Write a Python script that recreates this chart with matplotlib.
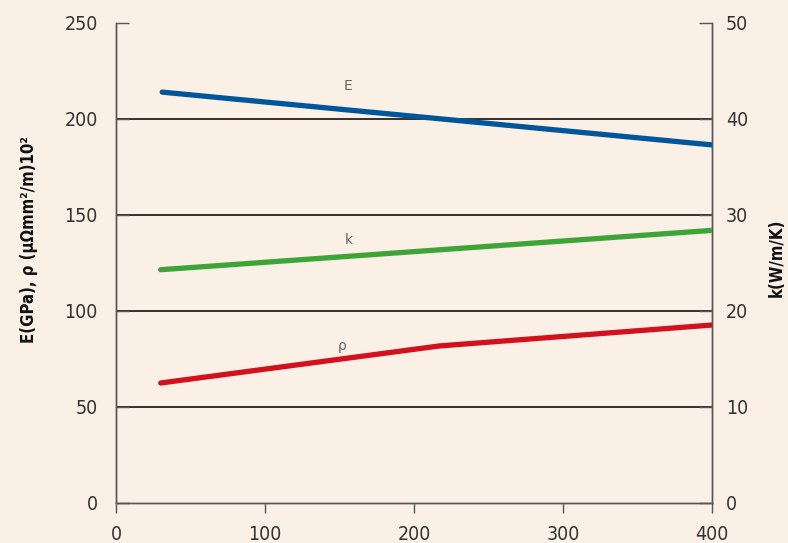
import matplotlib
matplotlib.use("Agg")
import matplotlib.pyplot as plt
from matplotlib import font_manager
from matplotlib.font_manager import FontProperties

# choose a condensed face if any is installed
cond_path = None
for f in font_manager.fontManager.ttflist:
    nm = f.name.lower()
    st = str(f.stretch).lower()
    if ("narrow" in nm or "condensed" in nm or "condensed" in st) and f.weight in (400, "normal", "regular") and f.style == "normal":
        cond_path = f.fname
        break
cond_bold_path = None
for f in font_manager.fontManager.ttflist:
    nm = f.name.lower()
    st = str(f.stretch).lower()
    if ("narrow" in nm or "condensed" in nm or "condensed" in st) and f.weight in (700, "bold") and f.style == "normal":
        cond_bold_path = f.fname
        break

tick_fp = FontProperties(fname=cond_path, size=14) if cond_path else FontProperties(family="Roboto", size=13)
lab_fp = FontProperties(fname=cond_bold_path, size=12) if cond_bold_path else FontProperties(family="Roboto", weight="bold", size=11.5)

temp_E = [31, 400]
E_vals = [214, 186.5]
temp_k = [30, 400]
k_vals = [24.3, 28.4]
temp_rho = [30, 217, 400]
rho_vals = [62.5, 81.8, 92.7]

xticks = [0, 100, 200, 300, 400]
yticks_left = [0, 50, 100, 150, 200, 250]
yticks_right = [0, 10, 20, 30, 40, 50]

bg = "#faf0e6"
fig = plt.figure(figsize=(7.88, 5.43), dpi=100, facecolor=bg)
ax = fig.add_axes([116/788, 40/543, (712-116)/788, (503-23)/543], facecolor=bg)
ax2 = ax.twinx()

ax.set_xlim(0, 400)
ax.set_ylim(0, 250)
ax2.set_ylim(0, 50)

for y in [50, 100, 150, 200]:
    ax.axhline(y, color="#111111", lw=1.2, zorder=1)

ax.plot(temp_E, E_vals, color="#00569b", lw=3.8, solid_capstyle="round", zorder=3)
ax2.plot(temp_k, k_vals, color="#3da537", lw=3.8, solid_capstyle="round", zorder=3)
ax.plot(temp_rho, rho_vals, color="#d4101d", lw=3.8, solid_capstyle="round", zorder=3)

ax.text(156, 217, "E", color="#666666", fontsize=10, ha="center", va="center")
ax.text(156, 137, "k", color="#666666", fontsize=10, ha="center", va="center")
ax.text(152, 82, "ρ", color="#666666", fontsize=10, ha="center", va="center")

for a in (ax, ax2):
    a.spines["top"].set_visible(False)
    for s in ("left", "right", "bottom"):
        a.spines[s].set_color("#555555")
        a.spines[s].set_linewidth(1.0)

ax.set_xticks(xticks)
ax.set_yticks(yticks_left)
ax2.set_yticks(yticks_right)
ax.tick_params(axis="x", direction="out", length=7, width=1, color="#555555",
               labelcolor="#333333", pad=8.5)
ax.tick_params(axis="y", direction="in", length=9.5, width=1, color="#555555",
               labelcolor="#333333", pad=13)
ax2.tick_params(axis="y", direction="in", length=9.5, width=1, color="#555555",
                labelcolor="#333333", pad=10)
for lab in ax.get_xticklabels() + ax.get_yticklabels() + ax2.get_yticklabels():
    lab.set_fontproperties(tick_fp)

ax.set_ylabel("E(GPa), ρ (μΩmm²/m)10²", fontproperties=lab_fp, color="#111111")
ax2.set_ylabel("k(W/m/K)", fontproperties=lab_fp, color="#111111")
ax.yaxis.set_label_coords((38 - 116) / 596, (503 - 240) / 480)
ax2.yaxis.set_label_coords((768 - 116) / 596, (503 - 258) / 480)

fig.savefig("out.png", dpi=100, facecolor=bg)
